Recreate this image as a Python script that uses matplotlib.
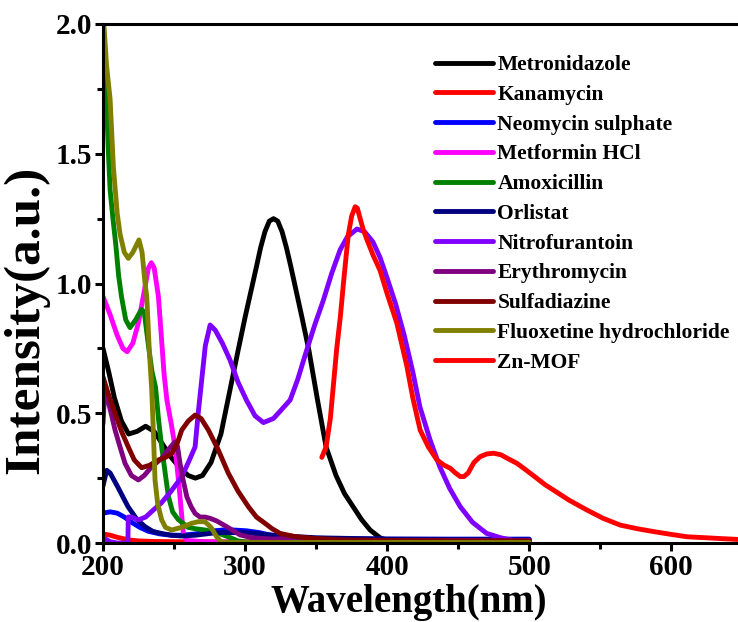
import matplotlib

matplotlib.use("Agg")

import matplotlib.pyplot as plt
from matplotlib.ticker import MultipleLocator, FormatStrFormatter


# ---- data (wavelength in nm, intensity in a.u.) ----

metronidazole_x = [200, 204, 208, 213, 218, 224, 230, 236, 242, 248, 254, 260,
                   265, 270, 276, 283, 289, 295, 300, 308, 311, 314, 317, 320,
                   323, 326, 329, 332, 340, 345, 351, 357, 364, 370, 376, 382,
                   388, 395, 400, 420, 450, 500]
metronidazole_y = [0.75, 0.66, 0.56, 0.47, 0.42, 0.43, 0.45, 0.43, 0.38, 0.33,
                   0.29, 0.26, 0.25, 0.26, 0.31, 0.42, 0.58, 0.74, 0.87, 1.065,
                   1.14, 1.20, 1.24, 1.25, 1.24, 1.20, 1.14, 1.07, 0.87, 0.74,
                   0.55, 0.37, 0.26, 0.19, 0.14, 0.09, 0.05, 0.02, 0.01, 0.005,
                   0.005, 0.005]

kanamycin_x = [200, 205, 210, 218, 225, 235, 250, 300, 350, 400, 450, 500]
kanamycin_y = [0.035, 0.03, 0.022, 0.012, 0.008, 0.006, 0.005, 0.004, 0.003,
               0.003, 0.003, 0.003]

neomycin_x = [200, 205, 210, 215, 220, 226, 232, 240, 248, 256, 265, 275, 284,
              292, 301, 310, 318, 325, 340, 360, 400, 450, 500]
neomycin_y = [0.115, 0.12, 0.115, 0.10, 0.08, 0.06, 0.045, 0.035, 0.03, 0.03,
              0.035, 0.045, 0.05, 0.05, 0.047, 0.04, 0.03, 0.025, 0.02, 0.017,
              0.015, 0.015, 0.015]

metformin_x = [200, 205, 210, 214, 217, 221, 225, 229, 232, 234, 236, 239,
               241, 243, 245, 248, 250.7, 253.5, 256.5, 259, 270, 300, 400, 500]
metformin_y = [0.95, 0.88, 0.80, 0.75, 0.737, 0.77, 0.85, 0.97, 1.06, 1.08,
               1.06, 0.95, 0.80, 0.65, 0.55, 0.46, 0.37, 0.22, 0.04, 0.01,
               0.005, 0.003, 0.003, 0.003]

amoxicillin_x = [200, 202, 204, 205, 207, 209, 211, 213, 216, 219, 223, 227,
                 229, 232, 234.5, 237, 239, 241.3, 244, 246, 249, 253, 260,
                 265, 272, 280, 288, 295, 300, 400, 500]
amoxicillin_y = [2.05, 1.75, 1.48, 1.36, 1.25, 1.15, 1.03, 0.95, 0.86, 0.83,
                 0.86, 0.90, 0.89, 0.76, 0.66, 0.60, 0.48, 0.37, 0.26, 0.18,
                 0.12, 0.09, 0.06, 0.055, 0.05, 0.04, 0.024, 0.008, 0.004,
                 0.003, 0.003]

orlistat_x = [200, 202.6, 205, 210, 217.6, 224, 229.6, 235, 241, 248, 255, 265,
              280, 300, 320, 350, 400, 500]
orlistat_y = [0.22, 0.28, 0.27, 0.22, 0.14, 0.09, 0.063, 0.045, 0.037, 0.03,
              0.027, 0.03, 0.04, 0.04, 0.03, 0.02, 0.015, 0.012]

nitrofurantoin_x = [200, 205, 210, 217.5, 217.8, 220, 224.9, 230, 236, 241,
                    248, 255.4, 260, 264.8, 267, 269.5, 272, 275.4, 279, 284,
                    289.4, 295, 301, 307, 312.9, 320, 325, 331.7, 337, 343.4,
                    349, 355.1, 361, 366.9, 372, 378.7, 384, 390, 395, 400,
                    406, 412, 418, 423, 430, 437, 444, 451.4, 460, 470, 480,
                    488.8, 500]
nitrofurantoin_y = [0.02, 0.005, 0.0, 0.0, 0.10, 0.10, 0.089, 0.10, 0.13,
                    0.154, 0.20, 0.255, 0.31, 0.37, 0.50, 0.63, 0.76, 0.84,
                    0.82, 0.77, 0.705, 0.62, 0.55, 0.49, 0.464, 0.48, 0.51,
                    0.551, 0.63, 0.744, 0.84, 0.936, 1.04, 1.13, 1.18, 1.21,
                    1.20, 1.16, 1.10, 1.02, 0.92, 0.80, 0.66, 0.525, 0.40,
                    0.294, 0.21, 0.14, 0.08, 0.037, 0.02, 0.01, 0.005]

erythromycin_x = [200, 201.4, 204, 208.5, 212, 215.5, 220, 224.9, 229, 234.3,
                  241.3, 246, 250.7, 252.5, 254.2, 256.5, 259, 262, 264.8,
                  268.3, 271.8, 275.4, 280, 287, 296.5, 305, 310.6, 320, 330,
                  336.4, 342, 360, 400, 450, 500]
erythromycin_y = [0.46, 0.60, 0.54, 0.435, 0.37, 0.307, 0.26, 0.243, 0.26,
                  0.294, 0.326, 0.36, 0.39, 0.37, 0.307, 0.24, 0.178, 0.14,
                  0.114, 0.10, 0.10, 0.095, 0.085, 0.063, 0.031, 0.02, 0.018,
                  0.015, 0.018, 0.024, 0.012, 0.01, 0.01, 0.01, 0.01]

sulfadiazine_x = [200, 204, 208.5, 213, 217.8, 222, 227.2, 233, 239, 244,
                  248.4, 252, 255.4, 260, 264.8, 269, 274.2, 281, 288.2, 295,
                  302.3, 308, 314, 319, 324.6, 335, 348, 370, 400, 450, 500]
sulfadiazine_y = [0.64, 0.57, 0.50, 0.43, 0.37, 0.32, 0.29, 0.30, 0.32, 0.33,
                  0.345, 0.38, 0.435, 0.47, 0.493, 0.48, 0.435, 0.36, 0.269,
                  0.20, 0.14, 0.10, 0.076, 0.055, 0.037, 0.025, 0.018, 0.012,
                  0.01, 0.008, 0.008]

fluoxetine_x = [200, 202.5, 205, 207.3, 210, 212, 215, 217.8, 221, 225.3,
                227.5, 229.6, 230.8, 232.5, 234.3, 235.5, 236.6, 238.5, 241.3,
                244, 248.4, 255, 262.5, 267, 271.8, 276, 280, 283.6, 300, 400,
                500]
fluoxetine_y = [2.05, 1.84, 1.71, 1.45, 1.27, 1.19, 1.12, 1.097, 1.12, 1.168,
                1.12, 1.00, 0.95, 0.75, 0.59, 0.42, 0.243, 0.15, 0.089, 0.06,
                0.05, 0.06, 0.076, 0.082, 0.082, 0.06, 0.024, 0.002, 0.002,
                0.002, 0.002]

znmof_x = [354, 357, 360, 362, 364.5, 367, 369.2, 371, 372.7, 375, 377.5, 379,
           381, 383, 385.7, 390, 395, 400, 406.8, 413.9, 418, 423.2, 429, 435,
           440, 444.4, 448, 451.4, 454, 457, 461, 465.5, 470, 474.9, 480, 485,
           491.3, 498, 505.4, 511, 517, 528, 540.6, 552, 564, 576, 587.5, 600,
           611, 625, 635, 646, 650]
znmof_y = [0.33, 0.37, 0.48, 0.60, 0.75, 0.87, 1.00, 1.10, 1.19, 1.26, 1.296,
           1.29, 1.25, 1.21, 1.17, 1.11, 1.05, 0.96, 0.847, 0.68, 0.56, 0.435,
           0.37, 0.32, 0.30, 0.288, 0.27, 0.256, 0.256, 0.27, 0.31, 0.333,
           0.343, 0.346, 0.34, 0.325, 0.307, 0.28, 0.249, 0.225, 0.204, 0.165,
           0.127, 0.095, 0.069, 0.055, 0.044, 0.033, 0.024, 0.02, 0.017,
           0.014, 0.013]

series = [
    ("Metronidazole", metronidazole_x, metronidazole_y, "#000000"),
    ("Kanamycin", kanamycin_x, kanamycin_y, "#ff0000"),
    ("Neomycin sulphate", neomycin_x, neomycin_y, "#0000ff"),
    ("Metformin HCl", metformin_x, metformin_y, "#ff00ff"),
    ("Amoxicillin", amoxicillin_x, amoxicillin_y, "#008000"),
    ("Orlistat", orlistat_x, orlistat_y, "#000080"),
    ("Nitrofurantoin", nitrofurantoin_x, nitrofurantoin_y, "#8000ff"),
    ("Erythromycin", erythromycin_x, erythromycin_y, "#800080"),
    ("Sulfadiazine", sulfadiazine_x, sulfadiazine_y, "#800000"),
    ("Fluoxetine hydrochloride", fluoxetine_x, fluoxetine_y, "#808000"),
    ("Zn-MOF", znmof_x, znmof_y, "#ff0000"),
]


plt.rcParams["font.family"] = ["Liberation Serif", "DejaVu Serif"]
plt.rcParams["font.weight"] = "bold"

fig = plt.figure(figsize=(7.38, 6.22), dpi=100)

ax = fig.add_axes([103 / 738, 79 / 622, 638 / 738, 519 / 622])

for label, xs, ys, color in series:
    ax.plot(
        xs,
        ys,
        color=color,
        linewidth=3.5,
        label=label,
        solid_capstyle="round",
        solid_joinstyle="round"
    )

ax.set_xlim(200, 649)
ax.set_ylim(0, 2.0)

ax.xaxis.set_major_locator(MultipleLocator(100))
ax.xaxis.set_minor_locator(MultipleLocator(50))
ax.yaxis.set_major_locator(MultipleLocator(0.5))
ax.yaxis.set_minor_locator(MultipleLocator(0.25))
ax.yaxis.set_major_formatter(FormatStrFormatter("%.1f"))

for side in ["left", "bottom", "top"]:
    ax.spines[side].set_linewidth(2.2)
ax.spines["right"].set_visible(False)

ax.tick_params(
    which="major",
    direction="out",
    length=6,
    width=2.2,
    labelsize=21,
    pad=2
)
ax.tick_params(
    which="minor",
    direction="out",
    length=4,
    width=2.2
)

ax.set_xlabel(
    "Wavelength(nm)",
    fontsize=28,
    fontweight="bold"
)
ax.xaxis.set_label_coords(0.48, -0.133, transform=ax.transAxes)
ax.xaxis.label.set_verticalalignment("baseline")

ax.set_ylabel(
    "Intensity(a.u.)",
    fontsize=37,
    fontweight="bold"
)
ax.yaxis.set_label_coords(-0.085, 0.43, transform=ax.transAxes)

ax.legend(
    loc="upper left",
    bbox_to_anchor=(435 / 738, 1 - 55 / 622),
    bbox_transform=fig.transFigure,
    frameon=False,
    handlelength=2.7,
    handletextpad=0.2,
    labelspacing=0.45,
    borderpad=0,
    borderaxespad=0,
    prop={"weight": "bold", "size": 15.5}
)

fig.savefig("out.png", dpi=100)
plt.close(fig)
